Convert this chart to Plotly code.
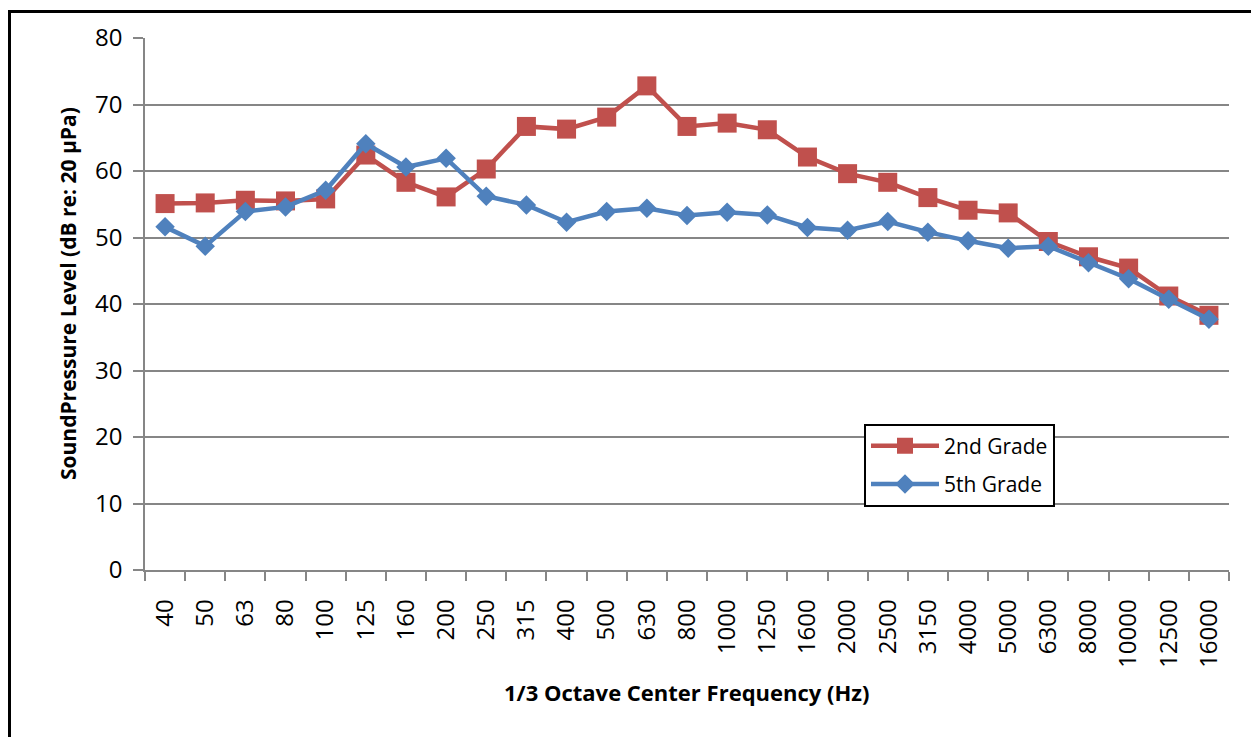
import plotly.graph_objects as go

freqs = ["40", "50", "63", "80", "100", "125", "160", "200", "250", "315", "400", "500",
         "630", "800", "1000", "1250", "1600", "2000", "2500", "3150", "4000", "5000",
         "6300", "8000", "10000", "12500", "16000"]
grade2 = [55.1, 55.2, 55.6, 55.5, 55.8, 62.4, 58.3, 56.1, 60.3, 66.7, 66.3, 68.1,
          72.8, 66.7, 67.2, 66.2, 62.1, 59.6, 58.3, 56.0, 54.1, 53.7, 49.4, 47.1,
          45.4, 41.2, 38.3]
grade5 = [51.6, 48.7, 53.9, 54.6, 57.1, 64.1, 60.6, 61.9, 56.2, 54.9, 52.3, 53.9,
          54.4, 53.3, 53.8, 53.4, 51.5, 51.1, 52.4, 50.8, 49.5, 48.4, 48.7, 46.2,
          43.8, 40.7, 37.7]

# the page body has an 8px margin, so figure pixels = page pixels - 8
OFF = 8
W, H = 1259 - OFF, 745 - 2 * OFF
L, R, T, B = 145 - OFF, 1229 - OFF, 36 - OFF, 570 - OFF

FONT = "'Open Sans', 'Noto Sans', sans-serif"

fig = go.Figure()
fig.add_trace(go.Scatter(
    x=freqs, y=grade2, name="2nd Grade", mode="lines+markers", legendgroup="g2",
    line=dict(color="#C0504D", width=4.5),
    marker=dict(symbol="square", size=19, color="#C0504D")))
fig.add_trace(go.Scatter(
    x=freqs, y=grade5, name="5th Grade", mode="lines+markers", legendgroup="g5",
    line=dict(color="#4F81BD", width=4.5),
    marker=dict(symbol="diamond", size=15, color="#4F81BD")))

def px(x):
    return (x - OFF - L) / (R - L)

def py(y):
    return (B - (y - OFF)) / (B - T)

fig.update_layout(
    width=W, height=H,
    margin=dict(l=L, r=W - R, t=T, b=H - B),
    paper_bgcolor="white", plot_bgcolor="white",
    font=dict(family=FONT, color="black"),
    showlegend=True,
    legend=dict(
        x=px(864), y=py(423), xanchor="left", yanchor="top",
        bordercolor="black", borderwidth=2, bgcolor="white",
        font=dict(size=21, family=FONT), itemwidth=68, tracegroupgap=8,
    ),
    xaxis=dict(
        type="category", showgrid=False, showline=True, linecolor="#868686", linewidth=1.5,
        ticks="outside", tickson="boundaries", ticklen=9, tickcolor="#868686", tickwidth=1.5,
        tickangle=-90, tickfont=dict(size=24, color="black"), ticklabelstandoff=18,
        range=[-0.5, len(freqs) - 0.5],
    ),
    yaxis=dict(
        range=[0, 80], dtick=10, showgrid=True, gridcolor="#868686", gridwidth=1.5,
        showline=True, linecolor="#868686", linewidth=1.5, zeroline=False,
        ticks="outside", ticklen=10, tickcolor="#868686", tickwidth=1.5,
        tickfont=dict(size=24, color="black"), ticklabelstandoff=6,
    ),
    annotations=[
        dict(text="<b>1/3 Octave Center Frequency (Hz)</b>", xref="paper", yref="paper",
             x=px(687), y=py(692), xanchor="center", yanchor="middle", showarrow=False,
             font=dict(size=22, family=FONT, color="black")),
        dict(text="<b>SoundPressure Level (dB re: 20 µPa)</b>", xref="paper", yref="paper",
             x=px(68), y=py(293), xanchor="center", yanchor="middle", showarrow=False,
             textangle=-90, font=dict(size=21, family=FONT, color="black")),
    ],
    shapes=[dict(type="rect", xref="paper", yref="paper",
                 x0=px(OFF + 1.5), x1=px(1263), y0=py(800), y1=py(OFF + 1.5),
                 line=dict(color="black", width=3), fillcolor="rgba(0,0,0,0)", layer="above")],
)

fig.write_html("out.html")
